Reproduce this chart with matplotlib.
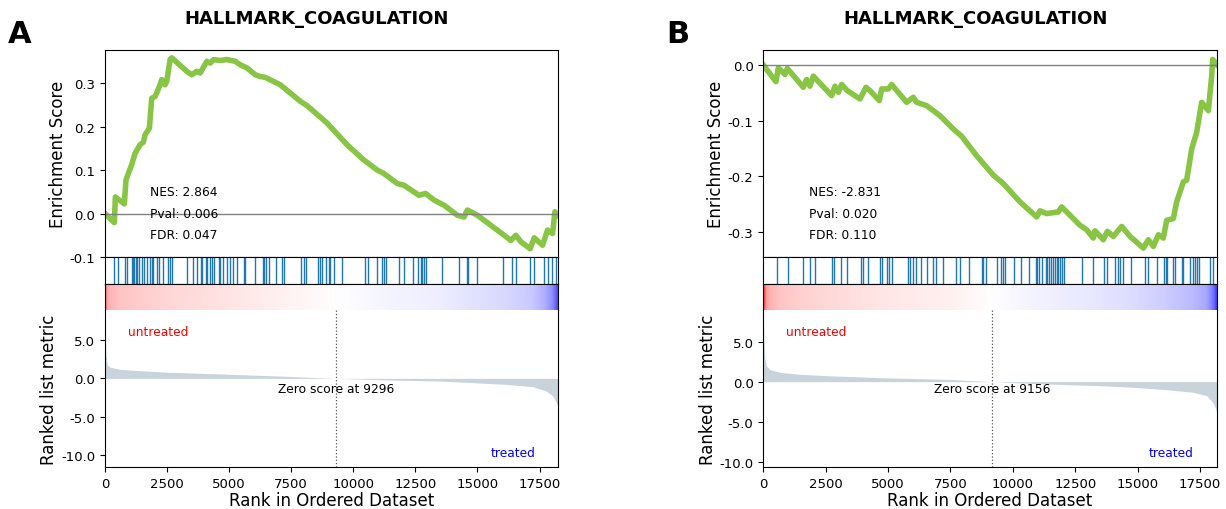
import numpy as np
import matplotlib
matplotlib.use('Agg')
import matplotlib.pyplot as plt
from matplotlib.colors import TwoSlopeNorm
from matplotlib.ticker import FormatStrFormatter

plt.rcParams['axes.unicode_minus'] = False

term = 'HALLMARK_COAGULATION'

#### panel A data
a_n = 18240
a_zero = 9296
a_stats = ['NES: 2.864', 'Pval: 0.006', 'FDR: 0.047']
a_es_rank = [0, 377, 420, 780, 847, 942, 1076, 1211, 1412, 1547, 1614, 1789, 1883, 2018, 2112,
             2219, 2287, 2421, 2488, 2623, 2690, 3295, 3497, 3699, 3833, 4102, 4237, 4371, 4640,
             4909, 5246, 5447, 5716, 6053, 6254, 6456, 7061, 7868, 8137, 8944, 9751, 10424, 10962,
             11231, 11769, 12038, 12643, 12912, 13248, 13652, 14190, 14459, 14593, 14997, 16073,
             16342, 16544, 16746, 17122, 17283, 17620, 17821, 18023, 18117, 18225]
a_es = [0.0, -0.021, 0.038, 0.022, 0.077, 0.092, 0.112, 0.138, 0.158, 0.164, 0.181, 0.196, 0.265,
        0.269, 0.281, 0.296, 0.308, 0.296, 0.304, 0.354, 0.358, 0.327, 0.319, 0.327, 0.323, 0.350,
        0.346, 0.354, 0.352, 0.354, 0.350, 0.342, 0.335, 0.319, 0.315, 0.313, 0.296, 0.258, 0.248,
        0.208, 0.158, 0.123, 0.100, 0.092, 0.069, 0.065, 0.042, 0.046, 0.031, 0.019, -0.004, -0.008,
        0.008, -0.004, -0.050, -0.062, -0.050, -0.065, -0.081, -0.056, -0.073, -0.038, -0.046,
        0.004, -0.004]
a_hits = [377, 511, 807, 874, 1076, 1116, 1170, 1251, 1305, 1385, 1480, 1587, 1681, 1816, 1883,
          1923, 2085, 2192, 2327, 2556, 2623, 2690, 3322, 3564, 3699, 3874, 3927, 4075, 4129, 4210,
          4304, 4371, 4573, 4640, 4748, 4909, 5044, 5151, 5313, 5582, 5649, 6053, 6362, 6416, 6483,
          6591, 6900, 7129, 7223, 7909, 8030, 8110, 8568, 8675, 8743, 8917, 9012, 9079, 9213, 9536,
          10491, 10599, 10935, 11164, 11231, 11298, 11836, 12038, 12401, 12603, 12710, 12778, 12845,
          12912, 13585, 14257, 14566, 14620, 14970, 16046, 16409, 16544, 17122, 17256, 17660, 17821,
          17983, 18158]
a_met_rank = [0, 40, 94, 201, 603, 1408, 2481, 4626, 7000, 9296, 11500, 13475, 14815, 16158,
              17229, 17766, 18034, 18168, 18240]
a_met = [7.5, 3.0, 1.75, 1.45, 1.17, 0.99, 0.80, 0.57, 0.30, 0.0, -0.22, -0.35, -0.56, -0.78,
         -1.08, -1.65, -2.3, -3.1, -3.6]

#### panel B data
b_n = 18170
b_zero = 9156
b_stats = ['NES: -2.831', 'Pval: 0.020', 'FDR: 0.110']
b_es_rank = [0, 508, 601, 868, 962, 1603, 1737, 1870, 2004, 2739, 2872, 3006, 3140, 3367, 3874,
             4115, 4275, 4649, 4743, 5010, 5144, 5745, 6012, 6146, 6546, 6814, 7081, 7615, 7949,
             8550, 9218, 9619, 10287, 10955, 11089, 11356, 11823, 11957, 12158, 12692, 12959, 13226,
             13293, 13627, 13787, 14028, 14362, 14696, 15230, 15431, 15632, 15832, 16032, 16166,
             16433, 16566, 16834, 16967, 17168, 17368, 17568, 17836, 17969, 18009, 18170]
b_es = [0.0, -0.030, -0.005, -0.017, -0.006, -0.040, -0.026, -0.038, -0.020, -0.055, -0.038,
        -0.049, -0.035, -0.046, -0.061, -0.040, -0.046, -0.064, -0.043, -0.043, -0.035, -0.067,
        -0.058, -0.067, -0.073, -0.082, -0.091, -0.115, -0.128, -0.163, -0.198, -0.213, -0.246,
        -0.273, -0.262, -0.267, -0.264, -0.255, -0.264, -0.288, -0.296, -0.311, -0.298, -0.314,
        -0.299, -0.308, -0.290, -0.308, -0.329, -0.314, -0.326, -0.305, -0.311, -0.279, -0.276,
        -0.246, -0.210, -0.207, -0.151, -0.121, -0.067, -0.082, -0.020, 0.010, 0.001]
b_hits = [534, 975, 1603, 1870, 2071, 2739, 2832, 3113, 3340, 3901, 4008, 4208, 4676, 4743, 4943,
          5050, 5144, 5812, 5878, 5985, 6119, 6306, 6546, 6814, 6920, 7188, 7722, 7882, 8256, 8751,
          8818, 8924, 9379, 9512, 9592, 9686, 10047, 10327, 10661, 10928, 10982, 11062, 11156,
          11329, 11383, 11463, 11516, 11596, 11690, 11757, 11823, 11890, 11957, 12051, 12759,
          13200, 13654, 13761, 14095, 14228, 14295, 14402, 14723, 15292, 15431, 15765, 16059,
          16139, 16192, 16406, 16500, 16767, 16834, 17101, 17207, 17301, 17394, 17475, 17902, 18009]
b_met_rank = [0, 28, 68, 136, 269, 669, 1471, 2541, 4677, 7500, 9156, 11000, 13495, 14830, 16168,
              17234, 17771, 18012, 18132, 18170]
b_met = [8.2, 5.0, 2.84, 1.92, 1.50, 1.17, 0.92, 0.75, 0.50, 0.28, 0.0, -0.25, -0.50, -0.70,
         -1.0, -1.33, -1.75, -2.6, -3.4, -3.9]


def draw_panel(left, right, letter, title_x, n, zero, stats, es_rank, es, hits,
               met_rank, met, es_ylim, es_ticks, met_ylim):
    gs = fig.add_gridspec(4, 1, left=left, right=right, top=0.9, bottom=0.0824,
                          height_ratios=[207, 27, 26, 157], hspace=0)
    ax_es = fig.add_subplot(gs[0])
    ax_hit = fig.add_subplot(gs[1])
    ax_cb = fig.add_subplot(gs[2])
    ax_met = fig.add_subplot(gs[3])

    # running enrichment score
    ax_es.plot(es_rank, es, color='#88C544', linewidth=4)
    ax_es.axhline(0, color='grey', linewidth=1)
    ax_es.set_xlim(0, n)
    ax_es.set_ylim(*es_ylim)
    ax_es.set_yticks(es_ticks)
    ax_es.yaxis.set_major_formatter(FormatStrFormatter('%.1f'))
    ax_es.tick_params(axis='x', bottom=False, labelbottom=False)
    ax_es.tick_params(axis='y', labelsize=9.5)
    ax_es.set_ylabel('Enrichment Score', fontsize=12, labelpad=2)
    for i, s in enumerate(stats):
        ax_es.text(0.1, 0.314 - i * 0.102, s, transform=ax_es.transAxes,
                   fontsize=8.8, va='center')

    # hits
    ax_hit.vlines(hits, 0, 1, color='#1f77b4', linewidth=1.0)
    ax_hit.set_xlim(0, n)
    ax_hit.set_ylim(0, 1)
    ax_hit.set_xticks([])
    ax_hit.set_yticks([])

    # colour strip
    ax_cb.pcolormesh(met_rank, [0, 1], np.vstack([met, met]), shading='gouraud',
                     cmap='bwr', norm=TwoSlopeNorm(0, -5, 5))
    ax_cb.set_xlim(0, n)
    ax_cb.set_ylim(0, 1)
    ax_cb.set_xticks([])
    ax_cb.set_yticks([])
    ax_cb.spines['bottom'].set_visible(False)

    # ranked list metric
    ax_met.fill_between(met_rank, met, 0, color='#C9D3DB', linewidth=0)
    ax_met.axvline(zero, color='#555555', linestyle=':', linewidth=0.9)
    ax_met.text(zero, 0.5, 'Zero score at %d' % zero, transform=ax_met.get_xaxis_transform(),
                ha='center', va='center', fontsize=8.8)
    ax_met.text(0.05, 0.86, 'untreated', color='red', transform=ax_met.transAxes,
                ha='left', va='center', fontsize=8.8)
    ax_met.text(0.95, 0.09, 'treated', color='blue', transform=ax_met.transAxes,
                ha='right', va='center', fontsize=8.8)
    ax_met.set_xlim(0, n)
    ax_met.set_ylim(*met_ylim)
    ax_met.set_yticks([5, 0, -5, -10])
    ax_met.yaxis.set_major_formatter(FormatStrFormatter('%.1f'))
    ax_met.set_xticks(np.arange(0, 17501, 2500))
    ax_met.tick_params(labelsize=9.5)
    ax_met.spines['top'].set_visible(False)
    ax_met.set_ylabel('Ranked list metric', fontsize=12, labelpad=2)
    ax_met.set_xlabel('Rank in Ordered Dataset', fontsize=12, labelpad=1)

    fig.text(title_x, 0.953, term, ha='center', va='baseline', fontsize=13, fontweight='bold')
    fig.text(left - 0.079, 0.9157, letter, ha='left', va='baseline', fontsize=22, fontweight='bold')


fig = plt.figure(figsize=(12.26, 5.1), dpi=100)

draw_panel(0.0856, 0.4551, 'A', 0.2586, a_n, a_zero, a_stats, a_es_rank, a_es, a_hits,
           a_met_rank, a_met, (-0.0987, 0.376), [-0.1, 0.0, 0.1, 0.2, 0.3], (-11.5, 8.87))
draw_panel(0.6226, 0.9924, 'B', 0.796, b_n, b_zero, b_stats, b_es_rank, b_es, b_hits,
           b_met_rank, b_met, (-0.345, 0.027), [0.0, -0.1, -0.2, -0.3], (-10.66, 8.96))

fig.savefig('out.png', dpi=100)
